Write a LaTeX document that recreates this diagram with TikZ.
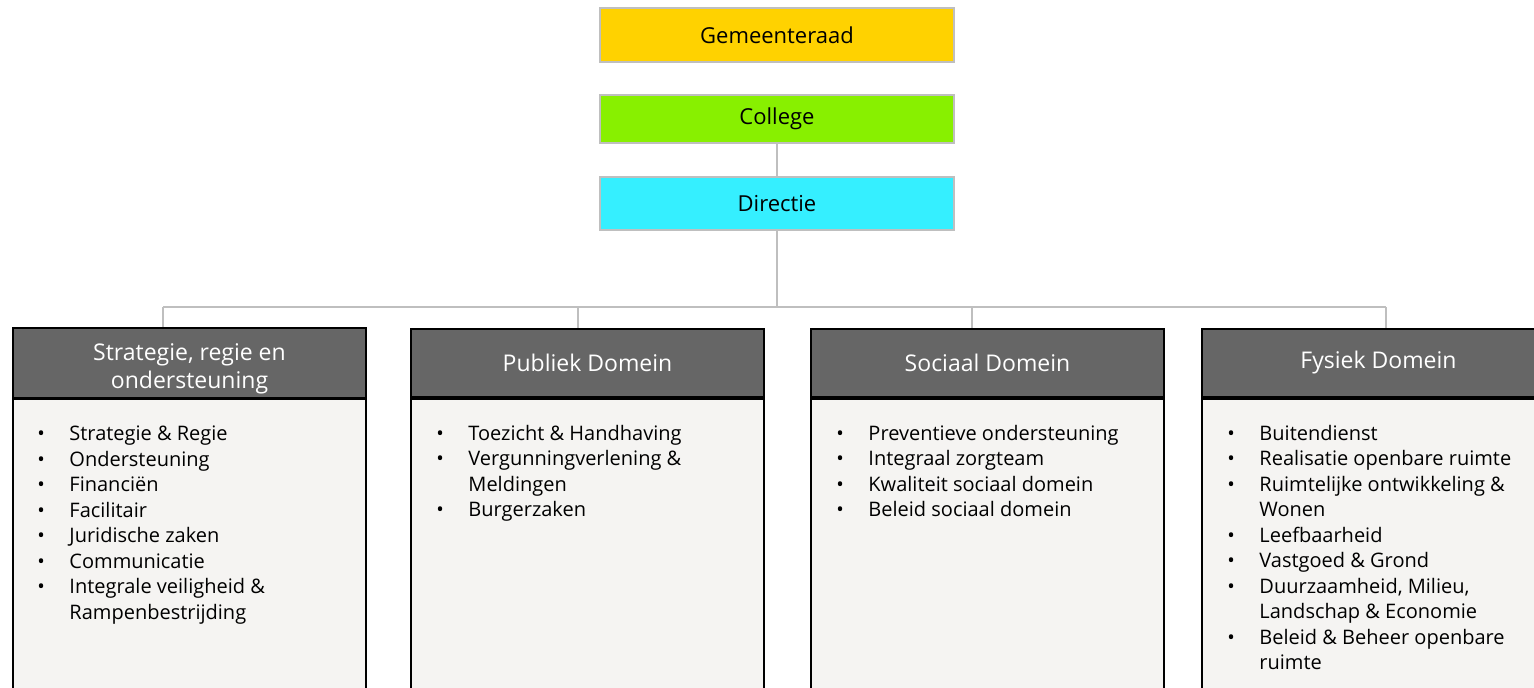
\documentclass[tikz,border=0pt]{standalone}
\usepackage{fontspec}
\setmainfont{Open Sans}
\usetikzlibrary{positioning}

\definecolor{raadgeel}{HTML}{FFD200}
\definecolor{collegegroen}{HTML}{88F000}
\definecolor{directieblauw}{HTML}{35EFFF}
\definecolor{kopgrijs}{HTML}{666666}
\definecolor{vlakgrijs}{HTML}{F5F4F2}
\definecolor{randgrijs}{HTML}{BFBFBF}

\newcommand{\bul}{\textbullet &}
\newcommand{\lijst}[1]{\begin{tabular}{@{}p{32pt}@{}l@{}}#1\end{tabular}}

\begin{document}
\begin{tikzpicture}[
	x=1pt, y=-1pt,
	node distance=0pt,
	topbox/.style={
		draw=randgrijs,
		line width=2pt,
		minimum width=354pt,
		font=\fontsize{22}{26}\selectfont
	},
	kop/.style={
		draw=black,
		line width=2pt,
		fill=kopgrijs,
		text=white,
		align=center,
		minimum width=353pt,
		minimum height=68pt,
		font=\fontsize{23}{28}\selectfont
	},
	vlak/.style={
		draw=black,
		line width=1.5pt,
		fill=vlakgrijs,
		minimum width=353pt,
		minimum height=330pt
	},
	lijsttekst/.style={
		inner sep=0pt,
		anchor=north west,
		align=left,
		font=\fontsize{20}{25.5}\selectfont
	},
	lijn/.style={
		draw=randgrijs,
		line width=1.5pt
	}]

	\useasboundingbox (0,0) rectangle (1534,688);
	\clip (0,0) rectangle (1534,688);

	% bestuur
	\node[topbox, fill=raadgeel, minimum height=54pt] (raad) at (777,35) {Gemeenteraad};
	\node[topbox, fill=collegegroen, minimum height=48pt, below=31pt of raad] (college) {College};
	\node[topbox, fill=directieblauw, minimum height=53pt, below=32pt of college] (directie) {Directie};

	% domeinen
	\node[kop] (kop1) at (189.5,363) {\rule{0pt}{29.5pt}Strategie, regie en\\ondersteuning};
	\node[kop, right=43pt of kop1] (kop2) {Publiek Domein};
	\node[kop, right=45pt of kop2] (kop3) {Sociaal Domein};
	\node[kop, right=36pt of kop3] (kop4) {Fysiek Domein};

	\node[vlak, below=of kop1] (vlak1) {};
	\node[vlak, below=of kop2] (vlak2) {};
	\node[vlak, below=of kop3] (vlak3) {};
	\node[vlak, below=of kop4] (vlak4) {};

	% lijsten
	\node[lijsttekst] (lijst1) at ([shift={(25,24)}]vlak1.north west) {\lijst{
		\bul Strategie \& Regie\\
		\bul Ondersteuning\\
		\bul Financiën\\
		\bul Facilitair\\
		\bul Juridische zaken\\
		\bul Communicatie\\
		\bul Integrale veiligheid \&\\
		& Rampenbestrijding}};
	\node[lijsttekst] (lijst2) at ([shift={(26,24)}]vlak2.north west) {\lijst{
		\bul Toezicht \& Handhaving\\
		\bul Vergunningverlening \&\\
		& Meldingen\\
		\bul Burgerzaken}};
	\node[lijsttekst] (lijst3) at ([shift={(26,24)}]vlak3.north west) {\lijst{
		\bul Preventieve ondersteuning\\
		\bul Integraal zorgteam\\
		\bul Kwaliteit sociaal domein\\
		\bul Beleid sociaal domein}};
	\node[lijsttekst] (lijst4) at ([shift={(26,24)}]vlak4.north west) {\lijst{
		\bul Buitendienst\\
		\bul Realisatie openbare ruimte\\
		\bul Ruimtelijke ontwikkeling \&\\
		& Wonen\\
		\bul Leefbaarheid\\
		\bul Vastgoed \& Grond\\
		\bul Duurzaamheid, Milieu,\\
		& Landschap \& Economie\\
		\bul Beleid \& Beheer openbare\\
		& ruimte}};

	% verbindingen
	\coordinate (tak1) at (163,307);
	\coordinate (tak2) at (578,307);
	\coordinate (tak3) at (972,307);
	\coordinate (tak4) at (1386,307);

	\path[lijn] (college) -- (directie);
	\path[lijn] (directie.south) -- (directie.south |- tak1);
	\path[lijn] (tak1) -- (tak4);
	\path[lijn] (tak1) -- (tak1 |- kop1.north);
	\path[lijn] (tak2) -- (tak2 |- kop2.north);
	\path[lijn] (tak3) -- (tak3 |- kop3.north);
	\path[lijn] (tak4) -- (tak4 |- kop4.north);
\end{tikzpicture}
\end{document}
